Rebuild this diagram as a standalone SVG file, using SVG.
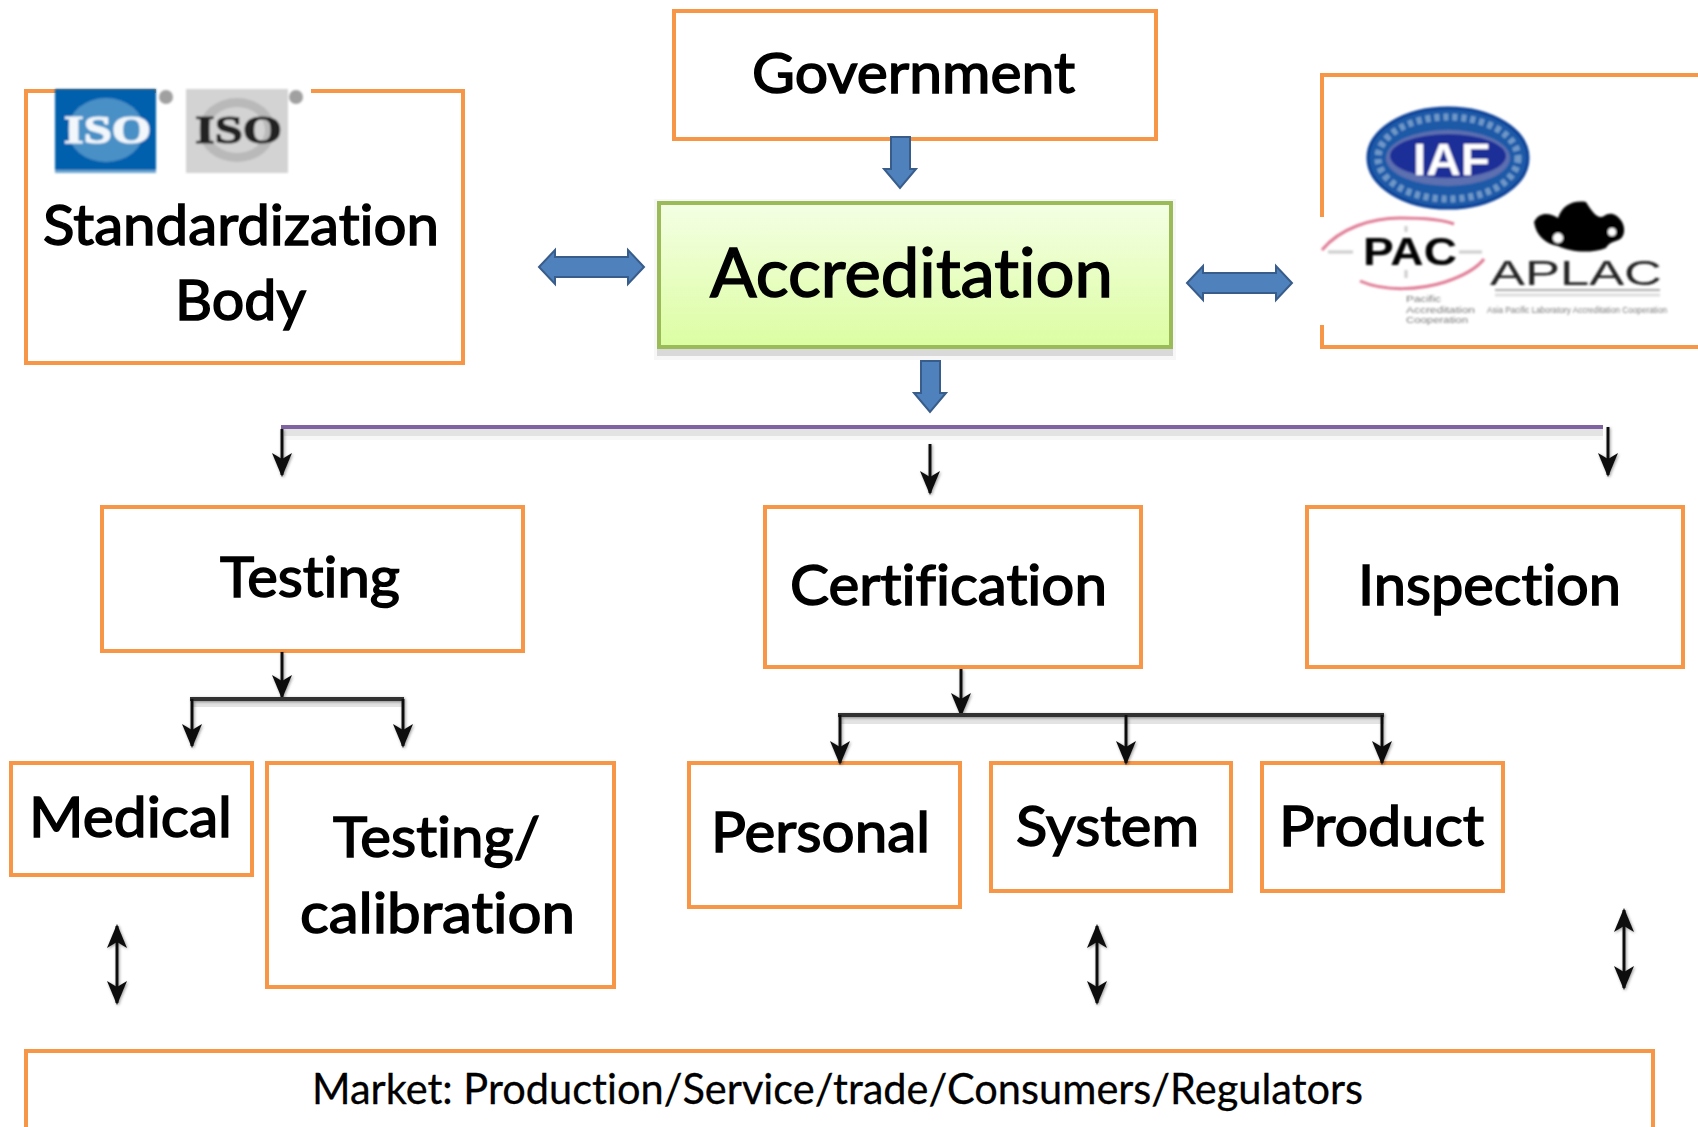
<svg xmlns="http://www.w3.org/2000/svg" width="1698" height="1127" viewBox="0 0 1698 1127">
<style>
.box{fill:#fff;stroke:#f79646;stroke-width:4}
.lbl{font-family:Lato,"Liberation Sans",sans-serif;font-size:56px;fill:#000;stroke:#000;stroke-width:1.5;font-variant-ligatures:none}
.blue{fill:#4f81bd;stroke:#385d8a;stroke-width:2}
.ln{fill:none;stroke:#111;stroke-width:3}
.shadow{fill:#000;opacity:.11}
.logo{font-family:"Liberation Sans",sans-serif}
.iso{font-family:"Liberation Serif",serif;font-weight:700;font-size:40px;stroke-width:1.2}
.tiny{font-family:"Liberation Sans",sans-serif;font-size:9px;fill:#777}
</style>
<defs>
<linearGradient id="acc" x1="0" y1="0" x2="0" y2="1"><stop offset="0" stop-color="#f4ffe4"/><stop offset="1" stop-color="#dcfda2"/></linearGradient>
<filter id="soft" x="-5%" y="-5%" width="110%" height="110%"><feGaussianBlur stdDeviation="1"/></filter>
<filter id="sh" x="-20%" y="-20%" width="140%" height="140%"><feDropShadow dx="1" dy="1" stdDeviation="1.5" flood-opacity=".4"/></filter>
<marker id="ah" markerUnits="userSpaceOnUse" markerWidth="26" markerHeight="24" viewBox="0 0 26 24" refX="23" refY="12" orient="auto-start-reverse"><path d="M1 2L25 12L1 22L7 12Z" fill="#111"/></marker>
</defs>
<rect width="1698" height="1127" fill="#fff"/>

<g id="node-standardization">
<rect class="box" x="26" y="91" width="437" height="272"/>
<rect x="156" y="87" width="155" height="8" fill="#fff"/>
<g id="iso-logos" filter="url(#soft)">
<rect x="55" y="89" width="101" height="84" fill="#0060ad"/><rect x="55" y="170" width="101" height="3" fill="#6aa6d0"/>
<ellipse cx="106" cy="130" rx="38" ry="32" fill="#4a90c6"/>
<text class="iso" x="64" y="143" fill="#f2f7fb" stroke="#f2f7fb" textLength="87" lengthAdjust="spacingAndGlyphs">ISO</text>
<circle cx="166" cy="97" r="7" fill="#a0a0a0"/>
<rect x="186" y="89" width="102" height="84" fill="#d3d3d3"/>
<ellipse cx="237" cy="130" rx="38" ry="32" fill="#b9b9b9"/><ellipse cx="237" cy="130" rx="28" ry="23" fill="#d3d3d3"/>
<text class="iso" x="195" y="143" fill="#222" stroke="#222" textLength="87" lengthAdjust="spacingAndGlyphs">ISO</text>
<circle cx="296" cy="97" r="7" fill="#a0a0a0"/>
</g>
<text class="lbl" x="43" y="245" textLength="396" lengthAdjust="spacingAndGlyphs">Standardization</text>
<text class="lbl" x="175" y="320" textLength="131" lengthAdjust="spacingAndGlyphs">Body</text>
</g>

<g id="node-government">
<rect class="box" x="674" y="11" width="482" height="128"/>
<text class="lbl" x="752" y="93" textLength="323" lengthAdjust="spacingAndGlyphs">Government</text>
</g>

<g id="node-accreditation">
<rect x="657" y="349" width="516" height="7" fill="#000" opacity=".12"/>
<rect x="654" y="199" width="522" height="161" fill="#000" opacity=".03"/>
<rect x="659" y="203" width="512" height="144" fill="url(#acc)" stroke="#9bbb59" stroke-width="4"/>
<text class="lbl" x="710" y="297" style="font-size:67px" textLength="403" lengthAdjust="spacingAndGlyphs">Accreditation</text>
</g>

<g id="node-international">
<path d="M1698 75H1322V347H1698" fill="#fff" stroke="#f79646" stroke-width="4"/>
<rect x="1318" y="217" width="8" height="108" fill="#fff"/>
<g id="iaf-logo" filter="url(#soft)">
<ellipse cx="1448" cy="158" rx="80" ry="50" fill="#1c5aa8" stroke="#0b3f96" stroke-width="3"/>
<ellipse cx="1448" cy="158" rx="70" ry="41" fill="none" stroke="#6f99c8" stroke-width="7" stroke-dasharray="5 4"/>
<ellipse cx="1448" cy="158" rx="62" ry="28" fill="#5d6fb0"/>
<ellipse cx="1448" cy="156" rx="58" ry="22" fill="#1f2f97"/>
<text class="logo" x="1413" y="175" font-size="44" font-weight="700" fill="#fff" textLength="77" lengthAdjust="spacingAndGlyphs">IAF</text>
</g>
<g id="pac-logo" filter="url(#soft)">
<path d="M1322 250C1340 228 1372 218 1400 218C1425 218 1444 220 1454 224" fill="none" stroke="#e07b95" stroke-width="3"/>
<path d="M1360 281C1385 292 1420 290 1445 282C1463 276 1477 268 1484 259" fill="none" stroke="#e07b95" stroke-width="3"/>
<path d="M1328 252H1353M1459 252H1482M1406 226V232M1406 270V278" fill="none" stroke="#ccc" stroke-width="3"/>
<text class="logo" x="1363" y="265" font-size="39" font-weight="700" fill="#000" textLength="94" lengthAdjust="spacingAndGlyphs">PAC</text>
<text class="tiny" x="1406" y="302" textLength="35" lengthAdjust="spacingAndGlyphs">Pacific</text>
<text class="tiny" x="1406" y="313" textLength="69" lengthAdjust="spacingAndGlyphs">Accreditation</text>
<text class="tiny" x="1406" y="323" textLength="62" lengthAdjust="spacingAndGlyphs">Cooperation</text>
</g>
<g id="aplac-logo" filter="url(#soft)">
<path d="M1534 222C1540 210 1552 214 1558 218C1562 206 1572 200 1586 202C1592 212 1598 220 1604 216C1614 208 1626 222 1624 232C1622 244 1612 238 1606 248C1590 254 1570 252 1558 246C1546 244 1536 236 1534 222Z" fill="#000"/>
<circle cx="1558" cy="238" r="5" fill="#fff"/><circle cx="1612" cy="232" r="4" fill="#fff"/>
<text class="logo" x="1490" y="285" font-size="35" fill="#222" textLength="172" lengthAdjust="spacingAndGlyphs">APLAC</text>
<path d="M1495 290H1660" stroke="#aaa" stroke-width="2"/><path d="M1495 295H1660" stroke="#ddd" stroke-width="3"/>
<text class="tiny" x="1487" y="313" textLength="180" lengthAdjust="spacingAndGlyphs">Asia Pacific Laboratory Accreditation Cooperation</text>
</g>
</g>

<g id="node-testing">
<rect class="box" x="102" y="507" width="421" height="144"/>
<text class="lbl" x="220" y="597" textLength="180" lengthAdjust="spacingAndGlyphs">Testing</text>
</g>
<g id="node-certification">
<rect class="box" x="765" y="507" width="376" height="160"/>
<text class="lbl" x="790" y="605" textLength="317" lengthAdjust="spacingAndGlyphs">Certification</text>
</g>
<g id="node-inspection">
<rect class="box" x="1307" y="507" width="376" height="160"/>
<text class="lbl" x="1358" y="605" textLength="263" lengthAdjust="spacingAndGlyphs">Inspection</text>
</g>
<g id="node-medical">
<rect class="box" x="11" y="763" width="241" height="112"/>
<text class="lbl" x="29" y="837" textLength="203" lengthAdjust="spacingAndGlyphs">Medical</text>
</g>
<g id="node-testing-calibration">
<rect class="box" x="267" y="763" width="347" height="224"/>
<text class="lbl" x="333" y="857" textLength="207" lengthAdjust="spacingAndGlyphs">Testing/</text>
<text class="lbl" x="300" y="933" textLength="275" lengthAdjust="spacingAndGlyphs">calibration</text>
</g>
<g id="node-personal">
<rect class="box" x="689" y="763" width="271" height="144"/>
<text class="lbl" x="711" y="852" textLength="219" lengthAdjust="spacingAndGlyphs">Personal</text>
</g>
<g id="node-system">
<rect class="box" x="991" y="763" width="240" height="128"/>
<text class="lbl" x="1016" y="846" textLength="183" lengthAdjust="spacingAndGlyphs">System</text>
</g>
<g id="node-product">
<rect class="box" x="1262" y="763" width="241" height="128"/>
<text class="lbl" x="1279" y="846" textLength="205" lengthAdjust="spacingAndGlyphs">Product</text>
</g>
<g id="node-market">
<rect class="box" x="26" y="1051" width="1627" height="100"/>
<text class="lbl" x="312" y="1104" style="font-size:43px;stroke-width:.3" textLength="1051" lengthAdjust="spacingAndGlyphs">Market: Production/Service/trade/Consumers/Regulators</text>
</g>

<g id="connectors">
<path class="blue" d="M891 137H910V169H916L900 188L884 169H891Z"/>
<path class="blue" d="M921 361H940V393H946L930 412L914 393H921Z"/>
<path class="blue" d="M539 267L555 250V257H628V250L644 267L628 284V277H555V284Z"/>
<path class="blue" d="M1187 283L1203 266V273H1276V266L1292 283L1276 300V293H1203V300Z"/>
<rect class="shadow" x="284" y="429" width="1319" height="7"/>
<rect x="284" y="436" width="1319" height="4" fill="#000" opacity=".03"/>
<rect x="281" y="425" width="1322" height="4" fill="#8064a2"/>
<rect class="shadow" x="192" y="701" width="212" height="6"/>
<rect class="shadow" x="840" y="717" width="544" height="7"/>
<g filter="url(#sh)">
<path class="ln" d="M282 429V475" marker-end="url(#ah)"/>
<path class="ln" d="M930 444V493" marker-end="url(#ah)"/>
<path class="ln" d="M1608 427V475" marker-end="url(#ah)"/>
<path class="ln" d="M282 652V697" marker-end="url(#ah)"/>
<path class="ln" style="stroke-width:4;stroke:#333" d="M190 699H404"/>
<path class="ln" d="M192 699V746" marker-end="url(#ah)"/>
<path class="ln" d="M403 699V746" marker-end="url(#ah)"/>
<path class="ln" d="M961 669V715" marker-end="url(#ah)"/>
<path class="ln" style="stroke-width:4;stroke:#333" d="M838 715H1384"/>
<path class="ln" d="M840 715V763" marker-end="url(#ah)"/>
<path class="ln" d="M1126 715V763" marker-end="url(#ah)"/>
<path class="ln" d="M1382 715V763" marker-end="url(#ah)"/>
<path class="ln" d="M117 926V1003" marker-start="url(#ah)" marker-end="url(#ah)"/>
<path class="ln" d="M1097 926V1003" marker-start="url(#ah)" marker-end="url(#ah)"/>
<path class="ln" d="M1624 910V988" marker-start="url(#ah)" marker-end="url(#ah)"/>
</g>
</g>
</svg>
